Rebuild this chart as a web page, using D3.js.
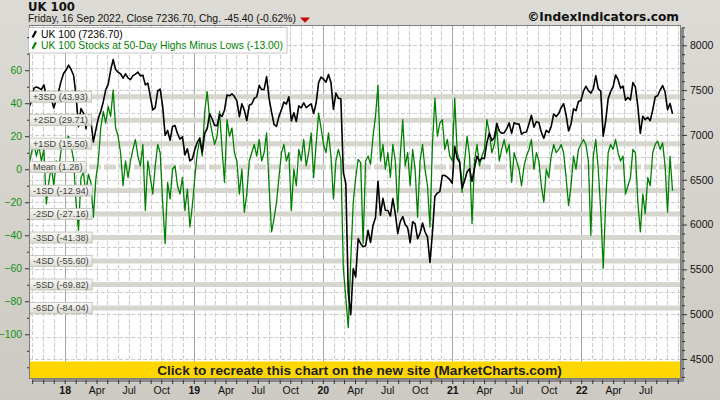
<!DOCTYPE html>
<html><head><meta charset="utf-8">
<script src="https://cdn.jsdelivr.net/npm/d3@7"></script>
<style>body{margin:0;background:#d4d1ca;} svg{display:block;}</style>
</head><body><svg id="c" width="720" height="400"></svg>
<script>
// ---- DATA (weekly, Fridays, starting 2017-09-22) ----
const startDate = new Date(2017, 8, 22);
const uk2017 = [7311,7373,7522,7535,7523,7505,7560,7433,7380,7409,7300,7394,7490,7603,7688];
const uk2018 = [7724,7778,7730,7666, 7443,7092,7294,7244, 7070,7224,7164,6922,7057, 7184,7264,7368,7502, 7567,7724,7840,7730, 7701,7681,7633,7682,7637, 7617,7661,7679,7701, 7659,7667,7558,7577,7432, 7278,7304,7490,7510, 7318,6996,7050,6940, 7094,7105,7014,6953,6980, 6778,6845,6711,6733];
const uk2019 = [6837,6918,6968,6809, 7020,7071,7236,7178, 7106,7104,7228,7207,7279, 7446,7437,7459,7428, 7380,7203,7348,7277,7161, 7331,7345,7407,7425, 7553,7506,7508,7650, 7407,7254,7117,7095,7207, 7282,7367,7345,7426, 7155,7247,7150,7324, 7302,7359,7303,7327,7346, 7239,7353,7582,7645];
const uk2020 = [7622,7588,7675,7586,7286, 7467,7409,7404,6581, 6463,5237,4994,5510, 5416,5843,5787,5752, 5763,5936,5800,5993,6076, 6484,6105,6292,6159, 6157,6095,6290,6123,5898, 6032,6090,6001,5964, 5799,6032,6007,5843, 5902,6017,5920,5860,5577, 5910,6316,6351,6368, 6550,6547,6529,6502,6461];
const uk2021 = [6873,6736,6695,6407, 6489,6589,6624,6483, 6631,6761,6709,6741, 6737,6916,7020,6938,6970, 7130,7044,7018,7023, 7069,7134,7017,7136, 7123,7122,7008,7028,7032, 7123,7219,7087,7148, 7138,7029,6964,7051, 7027,7095,7234,7205,7238, 7304,7348,7224,7044, 7122,7292,7270,7373,7385];
const uk2022 = [7486,7543,7494,7466, 7516,7661,7514,7489, 6987,7156,7405,7483, 7538,7669,7616,7522,7545, 7388,7418,7390,7585, 7533,7318,7016,7209, 7169,7196,7159,7277,7423, 7440,7501,7551,7479, 7281,7351,7236.7];

const hml2017 = [2,10,16,8,14,5,12,-21,-8,2,-10,5,0,12,16];
const hml2018 = [18,20,14,6, -20,-37,-5,-2, -15,-3,-8,-29,-6, 5,25,35,28, 38,32,48,25, 20,10,-10,5,-5, 5,12,18,8, 2,15,-25,5,-5, -15,2,15,10, -20,-45,-8,-18, 0,2,-10,-15,-5, -25,-12,-35,-22];
const hml2019 = [-5,10,18,8, 35,47,30,22, 15,20,35,12,-8, 30,20,25,10, 5,-15,0,-26,-15, 5,10,15,8, 18,5,10,22, -10,-38,-30,-20,-5, 10,15,5,10, -25,0,-10,12, 5,18,2,10,22, -5,15,34,25];
const hml2020 = [15,10,22,8,-18, 5,12,6,-60, -78,-96,-55,-20, -5,6,4,-45, 5,8,3,20,32, 51,5,15,0, 10,-5,15,5,-26, 8,30,2,10, -10,12,0,-29, 5,15,0,-10,-35, 15,43,20,28, 30,12,18,8,5];
const hml2021 = [43,10,5,-14, 5,20,8,-33, 5,15,2,8, 12,30,22,10,15, 25,5,12,18, 10,15,-8,10, 5,0,-10,2,8, 12,18,0,10, 5,-10,-20,0, -5,8,15,10,12, 15,10,-5,-22, -10,8,0,12,15];
const hml2022 = [18,15,5,-40, 8,18,0,-25, -60,-20,10,15, 12,18,10,5,8, -15,-10,-5,12, 10,-20,-38,-15, -27,-5,-10,10,15, 17,12,16,2, -26,8,-13];

const sdLevels = [43.93, 29.71, 15.50, 1.28, -12.94, -27.16, -41.38, -55.60, -69.82, -84.04];
const sdNames  = ["+3SD","+2SD","+1SD","Mean","-1SD","-2SD","-3SD","-4SD","-5SD","-6SD"];
const leftTicks  = [60,40,20,0,-20,-40,-60,-80,-100];
const rightTicks = [8000,7500,7000,6500,6000,5500,5000,4500];
const monthNames = {3:"Apr",6:"Jul",9:"Oct"};
const labelStart = new Date(2018, 0, 1), labelEnd = new Date(2022, 8, 1);

const titleText = "UK 100";
const subText = "Friday, 16 Sep 2022, Close 7236.70, Chg. -45.40 (-0.62%)";
const legend1 = "UK 100 (7236.70)";
const legend2 = "UK 100 Stocks at 50-Day Highs Minus Lows (-13.00)";
const bannerText = "Click to recreate this chart on the new site (MarketCharts.com)";
const copyText = "\u00A9IndexIndicators.com";

// ---- build ----
const ukAll = [].concat(uk2017, uk2018, uk2019, uk2020, uk2021, uk2022);
const hmlAll = [].concat(hml2017, hml2018, hml2019, hml2020, hml2021, hml2022);
const dates = ukAll.map((_, i) => d3.timeDay.offset(startDate, 7 * i));
const ukData = ukAll.map((v, i) => ({date: dates[i], v}));
const hmlData = hmlAll.map((v, i) => ({date: dates[i], v}));

const W = 720, H = 400;
const P = {l: 29, r: 681, t: 25, b: 379};
const svg = d3.select("#c");
const defs = svg.append("defs");

const bg = defs.append("linearGradient").attr("id","bg").attr("x1",0).attr("y1",0).attr("x2",0).attr("y2",1);
bg.append("stop").attr("offset","0%").attr("stop-color","#dddbd5");
bg.append("stop").attr("offset","100%").attr("stop-color","#cdcac3");
const lg = defs.append("linearGradient").attr("id","lbl").attr("x1",0).attr("y1",0).attr("x2",0).attr("y2",1);
lg.append("stop").attr("offset","0%").attr("stop-color","#fafaf8");
lg.append("stop").attr("offset","100%").attr("stop-color","#dcdcd4");
defs.append("clipPath").attr("id","clip").append("rect")
  .attr("x",P.l).attr("y",P.t).attr("width",P.r-P.l).attr("height",P.b-P.t);

svg.append("rect").attr("width",W).attr("height",H).attr("fill","url(#bg)");

const x = d3.scaleTime().domain([new Date(2017,8,22), new Date(2022,9,10)]).range([P.l, P.r]);
const yR = d3.scaleLinear().domain([4500, 8000]).range([359, 45.3]);
const yL = d3.scaleLinear().domain([-100, 60]).range([334.3, 70.2]);

// plot shadow + background
svg.append("rect").attr("x",P.l+3).attr("y",P.t+3).attr("width",P.r-P.l).attr("height",P.b-P.t).attr("fill","#8a8a8a");
svg.append("rect").attr("x",P.l).attr("y",P.t).attr("width",P.r-P.l).attr("height",P.b-P.t).attr("fill","#ffffff");

// grid
const grid = svg.append("g").attr("clip-path","url(#clip)");
const months = d3.timeMonth.range(d3.timeMonth.ceil(x.domain()[0]), x.domain()[1]);
grid.selectAll("line.hg").data(d3.range(4500, 8001, 250)).join("line")
  .attr("x1",P.l).attr("x2",P.r).attr("y1",d=>Math.round(yR(d))+0.5).attr("y2",d=>Math.round(yR(d))+0.5)
  .attr("stroke","#cccccc").attr("stroke-dasharray","4,2");
grid.selectAll("line.vg").data(months).join("line")
  .attr("x1",d=>Math.round(x(d))+0.5).attr("x2",d=>Math.round(x(d))+0.5).attr("y1",P.t).attr("y2",P.b)
  .attr("stroke",d=>d.getMonth()===0?"#a6a6a6":"#cccccc")
  .attr("stroke-dasharray",d=>d.getMonth()===0?null:"4,2");

// SD bands
const bands = svg.append("g").attr("clip-path","url(#clip)");
bands.selectAll("line").data(sdLevels).join("line")
  .attr("x1",P.l).attr("x2",P.r).attr("y1",d=>yL(d)).attr("y2",d=>yL(d))
  .attr("stroke","#d6d6ce").attr("stroke-width",5)
  .attr("stroke-dasharray",(d,i)=>sdNames[i]==="Mean"?"12,3":null);

// series
const lines = svg.append("g").attr("clip-path","url(#clip)");
lines.append("path").datum(hmlData)
  .attr("d", d3.line().x(d=>x(d.date)).y(d=>yL(d.v)))
  .attr("fill","none").attr("stroke","#008000").attr("stroke-width",1.3).attr("stroke-linejoin","round");
lines.append("path").datum(ukData)
  .attr("d", d3.line().x(d=>x(d.date)).y(d=>yR(d.v)))
  .attr("fill","none").attr("stroke","#000000").attr("stroke-width",1.6).attr("stroke-linejoin","round");

// band labels
const bl = svg.append("g");
sdLevels.forEach((lv, i) => {
  const g = bl.append("g");
  const r = g.append("rect").attr("x",P.l+0.5).attr("y",yL(lv)-5.5).attr("height",11)
    .attr("fill","url(#lbl)").attr("stroke","#bdbdb5").attr("stroke-width",0.8);
  const t = g.append("text").attr("x",P.l+4).attr("y",yL(lv)+3.3)
    .attr("font-family","Liberation Sans, Arial, sans-serif").attr("font-size",9.2).attr("fill","#404040")
    .text(`${sdNames[i]} (${lv.toFixed(2)})`);
  r.attr("width", t.node().getComputedTextLength() + 7);
});

// banner
svg.append("rect").attr("x",P.l).attr("y",361.5).attr("width",P.r-P.l).attr("height",P.b-361.5).attr("fill","#ffd700");
function fit(sel, target) {
  const w = sel.node().getComputedTextLength();
  const fs = parseFloat(sel.attr("font-size"));
  if (w > 0) sel.attr("font-size", (fs * target / w).toFixed(2));
  return sel;
}
fit(svg.append("text").attr("x",359.5).attr("y",375).attr("text-anchor","middle")
  .attr("font-family","Liberation Sans, Arial, sans-serif").attr("font-weight","bold").attr("font-size",12.5)
  .attr("fill","#1e1e1e").text(bannerText), 405);

// plot border
svg.append("rect").attr("x",P.l+0.5).attr("y",P.t+0.5).attr("width",P.r-P.l-1).attr("height",P.b-P.t-1)
  .attr("fill","none").attr("stroke","#7c7c7c");

// legend
svg.append("rect").attr("x",28.5).attr("y",27.5).attr("width",258.5).attr("height",25.5)
  .attr("fill","#ffffff").attr("stroke","#c4c4c4");
[[legend1,"#000000",37.5],[legend2,"#008000",48.7]].forEach(([txt,col,by],k)=>{
  svg.append("line").attr("x1",32.5).attr("y1",by).attr("x2",36).attr("y2",by-6.5)
    .attr("stroke",col).attr("stroke-width",2.2);
  fit(svg.append("text").attr("x",41).attr("y",by).attr("font-family","Liberation Sans, Arial, sans-serif")
    .attr("font-size",10.3).attr("fill",col).text(txt), k===0?81.7:242);
});

// axes
const fontAx = "Liberation Sans, Arial, sans-serif";
const axL = svg.append("g").attr("transform",`translate(${P.l},0)`)
  .call(d3.axisLeft(yL).tickValues(leftTicks).tickSize(4).tickPadding(3).tickFormat(d3.format("d")));
axL.select(".domain").remove();
axL.selectAll("text").attr("font-family",fontAx).attr("font-size",10.4).attr("fill","#139013");
axL.selectAll("line").attr("stroke","#333");
svg.append("g").attr("transform",`translate(${P.l},0)`)
  .call(d3.axisLeft(yL).tickValues(d3.range(-120, 81, 10).filter(v=>!leftTicks.includes(v))).tickSize(2).tickFormat(""))
  .call(g=>{g.select(".domain").remove(); g.selectAll("line").attr("stroke","#333");});

const axR = svg.append("g").attr("transform",`translate(${P.r+1},0)`)
  .call(d3.axisRight(yR).tickValues(rightTicks).tickSize(5).tickPadding(3).tickFormat(d3.format("d")));
axR.select(".domain").remove();
axR.selectAll("text").attr("font-family",fontAx).attr("font-size",10.5).attr("fill","#111");
axR.selectAll("line").attr("stroke","#333");
svg.append("g").attr("transform",`translate(${P.r+1},0)`)
  .call(d3.axisRight(yR).tickValues(d3.range(4300, 8201, 100).filter(v=>!rightTicks.includes(v))).tickSize(3).tickFormat(""))
  .call(g=>{g.select(".domain").remove(); g.selectAll("line").attr("stroke","#333");});

const axB = svg.append("g").attr("transform",`translate(0,${P.b+1})`)
  .call(d3.axisBottom(x).tickValues(months).tickSize(4).tickPadding(3)
    .tickFormat(d => (d < labelStart || d > labelEnd) ? "" :
      (d.getMonth()===0 ? d3.timeFormat("%y")(d) : (monthNames[d.getMonth()] || ""))));
axB.select(".domain").remove();
axB.selectAll("line").attr("stroke","#333");
axB.selectAll("text").attr("font-family",fontAx).attr("font-size",10.5).attr("fill","#111")
  .attr("font-weight",d=>d.getMonth()===0?"bold":"normal");

// titles
fit(svg.append("text").attr("x",28).attr("y",11).attr("font-family","DejaVu Sans, sans-serif")
  .attr("font-weight","bold").attr("font-size",11.5).attr("fill","#111").text(titleText), 47);
fit(svg.append("text").attr("x",28).attr("y",21.7).attr("font-family","Liberation Sans, Arial, sans-serif")
  .attr("font-size",10.7).attr("fill","#111").text(subText), 268);
svg.append("path").attr("d","M300,17.5 L310,17.5 L305,22.8 Z").attr("fill","#cc0000");
fit(svg.append("text").attr("x",679).attr("y",20.7).attr("text-anchor","end").attr("font-family","DejaVu Sans, sans-serif")
  .attr("font-weight","bold").attr("font-size",11).attr("fill","#111").text(copyText), 152);
</script>
</body></html>
